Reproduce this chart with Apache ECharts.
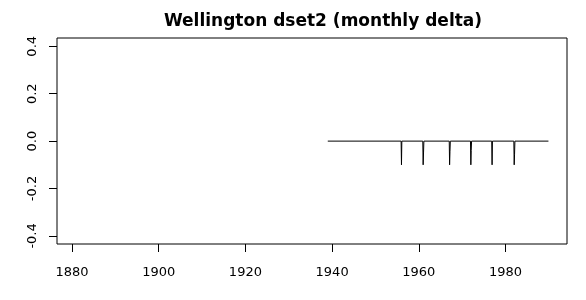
<!DOCTYPE html>
<html>
<head>
<meta charset="utf-8">
<script src="https://cdn.jsdelivr.net/npm/echarts@6/dist/echarts.min.js"></script>
<style>
html,body{margin:0;padding:0;background:#fff;}
#c{width:586px;height:300px;}
</style>
</head>
<body>
<div id="c"></div>
<script>
const titleText = 'Wellington dset2 (monthly delta)';
const xTicks = [1880, 1900, 1920, 1940, 1960, 1980];
const yTicks = [-0.4, -0.2, 0.0, 0.2, 0.4];
const startYear = 1939.0;
const endYear = 1989.9;
const baseValue = 0;
const spikeYears = [1956.0, 1961.0, 1967.1, 1972.0, 1976.9, 1982.0];
const spikeValues = [-0.1, -0.1, -0.1, -0.1, -0.1, -0.1];
const spikeNextValues = [0, -0.05, -0.045, -0.04, 0, -0.055];

const month = 1 / 12;
const seriesData = [[startYear, baseValue]];
spikeYears.forEach((t, i) => {
  seriesData.push([t - month, baseValue]);
  seriesData.push([t, spikeValues[i]]);
  if (spikeNextValues[i] !== 0) {
    seriesData.push([t + month, spikeNextValues[i]]);
    seriesData.push([t + 2 * month, baseValue]);
  } else {
    seriesData.push([t + month, baseValue]);
  }
});
seriesData.push([endYear, baseValue]);

const chart = echarts.init(document.getElementById('c'), null, {renderer: 'canvas'});
const font = 'DejaVu Sans';
chart.setOption({
  animation: false,
  backgroundColor: '#ffffff',
  title: {
    text: titleText,
    left: 318,
    top: 8,
    textAlign: 'center',
    textStyle: {fontFamily: font, fontWeight: 'bold', fontSize: 17, color: '#000'}
  },
  grid: {
    left: 57, right: 19, top: 38, bottom: 56,
    show: true, borderColor: '#000', borderWidth: 1, backgroundColor: 'transparent'
  },
  xAxis: {
    type: 'value',
    position: 'bottom',
    min: 1876.54,
    max: 1994.18,
    axisLine: {show: false, onZero: false},
    splitLine: {show: false},
    axisTick: {show: true, inside: false, length: 8, customValues: xTicks, lineStyle: {color: '#000', width: 1}},
    axisLabel: {
      show: true, customValues: xTicks, margin: 22,
      fontFamily: font, fontSize: 13, color: '#000',
      formatter: v => String(v)
    }
  },
  yAxis: {
    type: 'value',
    position: 'left',
    min: -0.434,
    max: 0.435,
    axisLine: {show: false, onZero: false},
    splitLine: {show: false},
    axisTick: {show: true, inside: false, length: 8, customValues: yTicks, lineStyle: {color: '#000', width: 1}},
    axisLabel: {
      show: true, customValues: yTicks, margin: 18, rotate: 90,
      fontFamily: font, fontSize: 13, color: '#000',
      formatter: v => Number(v).toFixed(1)
    }
  },
  series: [{
    type: 'line',
    data: seriesData,
    showSymbol: false,
    symbol: 'none',
    lineStyle: {color: '#000', width: 1},
    silent: true
  }]
});
</script>
</body>
</html>
